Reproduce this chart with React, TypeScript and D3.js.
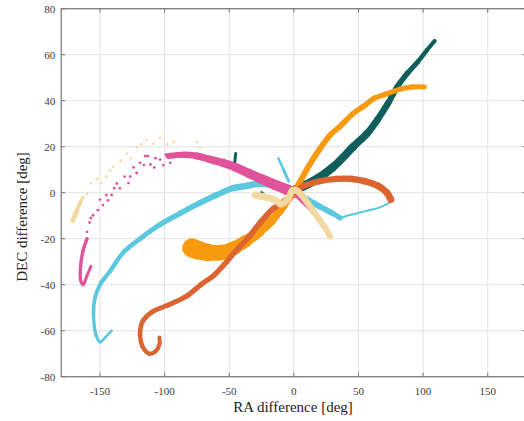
import React from "react";
import * as d3 from "d3";

type P = [number, number];

const xTicks = [-150, -100, -50, 0, 50, 100, 150];
const yTicks = [-80, -60, -40, -20, 0, 20, 40, 60, 80];

const tealMain: P[] = [[0,1],[15,5],[30,11],[46,20],[57,26],[65,32],[73,39],[80,46],[88,52],[96,57],[103,62],[109,66]];
const tealBitA: P[] = [[-46,12],[-45,17]];
const tealBitB: P[] = [[-25,0],[-21,-2]];
const cyanMain: P[] = [[-141,-60],[-146,-63],[-150,-65],[-153,-62],[-155,-53],[-154,-46],[-150,-40],[-142,-34],[-132,-26],[-119,-20],[-104,-14],[-88,-9],[-73,-4.5],[-60,-1],[-47,2],[-36,3],[-26,4],[-15,3],[-6,1],[0,0]];
const cyanRight: P[] = [[0,0],[10,-3],[20,-6],[30,-9],[36,-11]];
const cyanTail: P[] = [[36,-11],[45,-9.5],[52,-8.5],[59,-7.5],[66,-6.5],[72,-5],[75,-4]];
const cyanSpike: P[] = [[-4,5],[-8,10],[-12,15]];
const pinkMain: P[] = [[-97,16],[-85,16.5],[-75,16],[-65,14.5],[-55,13],[-45,11],[-35,8.5],[-25,6],[-15,3.5],[-6,1.5],[0,0]];
const pinkTail: P[] = [[0,0],[7,-4],[14,-8],[21,-12]];
const pinkHook: P[] = [[-157,-32],[-160,-36],[-163,-40],[-165,-38],[-165,-32],[-163,-25],[-160,-20]];
const pinkDots: P[] = [[-160,-17],[-158,-13],[-155.4,-9.8],[-151.6,-7.6],[-147.7,-5.4],[-143.8,-3.3],[-141,-1],[-134.6,1.9],[-128,4.2],[-126.6,7],[-121.6,8.6],[-119,13],[-115,15.9],[-111,12.3],[-107,15],[-103.5,14.4],[-99,16.5],[-95.6,13],[-150,-3],[-137,4],[-131,7],[-124,11],[-108,11],[-101,12],[-157,-11],[-145,-1],[-139,2],[-116,12],[-113,16]];
const orangeUpper: P[] = [[0,0],[5,5],[12,12],[20,19],[28,25],[36,29],[45,34],[55,38],[62,41],[72,43],[82,45],[92,46],[101,46]];
const orangeLower: P[] = [[0,0],[-8,-6],[-17,-12],[-27,-17],[-37,-21],[-46,-24],[-56,-26],[-66,-26],[-74,-25],[-79,-24]];
const redRight: P[] = [[75,-3],[72,0],[65,3],[55,5],[45,6],[33,6],[20,5],[8,3],[0,0]];
const redLeft: P[] = [[0,0],[-8,-4],[-16,-7],[-26,-13],[-36,-20],[-46,-26],[-52,-30],[-62,-36],[-72,-40],[-83,-45],[-98,-49],[-110,-52],[-117,-56],[-119,-62],[-117,-67],[-112,-70],[-107,-69],[-104,-66],[-104,-63]];
const wheatMain: P[] = [[-30,-1],[-22,-2],[-15,-3],[-10,-5],[-5,-3],[-1,1],[2,1],[6,-1],[10,-4],[15,-8],[20,-12],[25,-16],[28,-19]];
const wheatWedge: P[] = [[-171,-12],[-168,-8],[-165,-4],[-163,-2]];
const wheatDots: P[] = [[-165,-4.6],[-160,-0.3],[-157,4],[-152,6],[-149,4],[-142,9.7],[-139.7,11.2],[-134,14],[-129,17],[-121.6,19.8],[-114,22.7],[-108.6,21.3],[-103.5,23.8],[-93,22],[-75,22],[-72.6,19.8],[-98,21],[-118,21],[-145,7],[-126,15]];

const C = {
  teal: "#0e5f5b",
  cyan: "#5cc8e0",
  pink: "#e0539a",
  orange: "#f89a10",
  red: "#dc6430",
  wheat: "#f3d8a2",
};

const bands: { pts: P[]; color: string; w0: number; w1: number }[] = [
  { pts: tealMain, color: C.teal, w0: 9, w1: 4 },
  { pts: tealBitA, color: C.teal, w0: 3, w1: 3 },
  { pts: tealBitB, color: C.teal, w0: 3, w1: 3 },
  { pts: cyanMain, color: C.cyan, w0: 2.5, w1: 7.5 },
  { pts: cyanRight, color: C.cyan, w0: 7, w1: 5 },
  { pts: cyanTail, color: C.cyan, w0: 2, w1: 2 },
  { pts: cyanSpike, color: C.cyan, w0: 3, w1: 2.5 },
  { pts: pinkMain, color: C.pink, w0: 6, w1: 11 },
  { pts: pinkTail, color: C.pink, w0: 4, w1: 3 },
  { pts: pinkHook, color: C.pink, w0: 3, w1: 3.5 },
  { pts: orangeUpper, color: C.orange, w0: 6, w1: 5 },
  { pts: orangeLower, color: C.orange, w0: 6, w1: 19 },
  { pts: redRight, color: C.red, w0: 7, w1: 6 },
  { pts: redLeft, color: C.red, w0: 6, w1: 4 },
  { pts: wheatMain, color: C.wheat, w0: 7, w1: 6 },
  { pts: wheatWedge, color: C.wheat, w0: 5, w1: 3 },
];

const dotSets: { pts: P[]; color: string; r: number }[] = [
  { pts: pinkDots, color: C.pink, r: 1.4 },
  { pts: wheatDots, color: C.wheat, r: 1.3 },
];

const W = 524, H = 421;
const left = 61.2, right = 526.5, top = 8.7, bottom = 376.7;
const font = "Liberation Serif, Times New Roman, Times, Nimbus Roman, FreeSerif, DejaVu Serif, Noto Serif, serif";

function curvePieces(pts: [number, number][]): string[] {
  const out: string[] = [];
  let cx = 0, cy = 0;
  const ctx: any = {
    moveTo(a: number, b: number) { cx = a; cy = b; },
    lineTo(a: number, b: number) { out.push(`M${cx},${cy}L${a},${b}`); cx = a; cy = b; },
    bezierCurveTo(a: number, b: number, c: number, d: number, e: number, f: number) {
      out.push(`M${cx},${cy}C${a},${b},${c},${d},${e},${f}`); cx = e; cy = f;
    },
    closePath() {},
  };
  d3.line().curve(d3.curveCatmullRom.alpha(0.5)).context(ctx)(pts);
  return out;
}

export default function App() {
  const x = d3.scaleLinear().domain([-180, 180]).range([left, right]);
  const y = d3.scaleLinear().domain([-80, 80]).range([bottom, top]);

  const segs: any[] = [];
  bands.forEach((b, bi) => {
    const pieces = curvePieces(b.pts.map(p => [x(p[0]), y(p[1])] as [number, number]));
    const n = pieces.length;
    pieces.forEach((d, i) => {
      const t = n > 1 ? i / (n - 1) : 0;
      const w = b.w0 + (b.w1 - b.w0) * t;
      segs.push(
        <path key={`${bi}-${i}`} d={d} stroke={b.color} strokeWidth={w} fill="none"
          strokeLinecap="round" strokeLinejoin="round" />
      );
    });
  });

  return (
    <svg width={W} height={H} fontFamily={font} style={{ position: "absolute", left: 0, top: 0, background: "#fff" }}>
      <defs>
        <clipPath id="plot"><rect x={left} y={top} width={right - left} height={bottom - top} /></clipPath>
      </defs>
      <rect x={0} y={0} width={W} height={H} fill="#fff" />
      {xTicks.map(t => (
        <line key={`gx${t}`} x1={x(t)} x2={x(t)} y1={top} y2={bottom} stroke="#e3e3e3" strokeWidth={1} />
      ))}
      {yTicks.map(t => (
        <line key={`gy${t}`} x1={left} x2={right} y1={y(t)} y2={y(t)} stroke="#e3e3e3" strokeWidth={1} />
      ))}
      <g clipPath="url(#plot)">
        {segs}
        {dotSets.map((s, si) => s.pts.map((p, i) => (
          <circle key={`d${si}-${i}`} cx={x(p[0])} cy={y(p[1])} r={s.r} fill={s.color} />
        )))}
      </g>
      <rect x={left} y={top} width={right - left} height={bottom - top} fill="none" stroke="#777" strokeWidth={1.2} />
      {xTicks.map(t => (
        <g key={`tx${t}`}>
          <line x1={x(t)} x2={x(t)} y1={bottom} y2={bottom - 4} stroke="#777" />
          <line x1={x(t)} x2={x(t)} y1={top} y2={top + 4} stroke="#777" />
          <text x={x(t)} y={bottom + 18} textAnchor="middle" fontSize={11} fill="#3a3a3a">{t}</text>
        </g>
      ))}
      {yTicks.map(t => (
        <g key={`ty${t}`}>
          <line x1={left} x2={left + 4} y1={y(t)} y2={y(t)} stroke="#777" />
          <line x1={right} x2={right - 4} y1={y(t)} y2={y(t)} stroke="#777" />
          <text x={left - 6} y={y(t) + 4} textAnchor="end" fontSize={11} fill="#3a3a3a">{t}</text>
        </g>
      ))}
      <text x={293} y={412} textAnchor="middle" fontSize={15} fill="#222">RA difference [deg]</text>
      <text transform={`translate(27,217) rotate(-90)`} textAnchor="middle" fontSize={15} fill="#222">DEC difference [deg]</text>
    </svg>
  );
}
